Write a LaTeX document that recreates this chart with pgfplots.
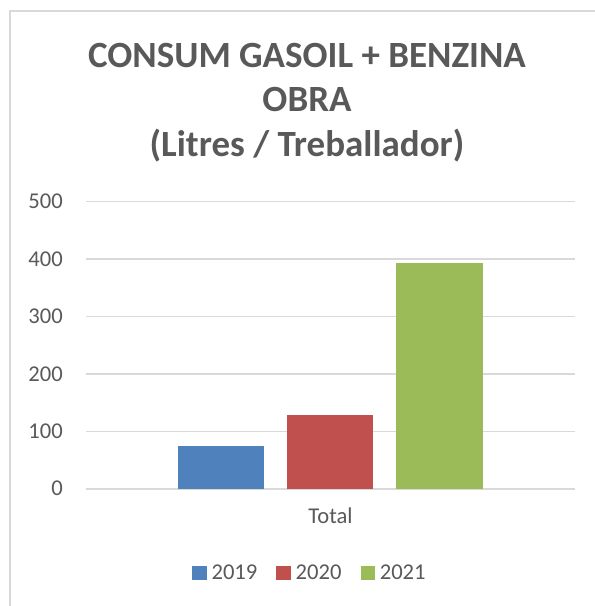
\documentclass[border=0pt]{standalone}
\usepackage{pgfplots}
\pgfplotsset{compat=1.18}
\usepackage{fontspec}
\setmainfont{Carlito}
\definecolor{cblue}{HTML}{4F81BD}
\definecolor{cred}{HTML}{C0504D}
\definecolor{cgreen}{HTML}{9BBB59}
\definecolor{ctext}{HTML}{595959}
\definecolor{cgrid}{HTML}{D9D9D9}
\begin{document}
\begin{tikzpicture}[x=1pt,y=1pt]
\path[use as bounding box] (-86,-117.3) rectangle (509,488.7);
\draw[cgrid, line width=1.5pt] (-76,-117.3) -- (-76,477.7) -- (509,477.7);
\node[anchor=base, font=\fontsize{37}{40}\selectfont\bfseries, text=ctext] at (221,420.7) {CONSUM GASOIL + BENZINA};
\node[anchor=base, font=\fontsize{37}{40}\selectfont\bfseries, text=ctext] at (221,376.7) {OBRA};
\node[anchor=base, font=\fontsize{37}{40}\selectfont\bfseries, text=ctext] at (221,331.7) {(Litres / Treballador)};
\begin{axis}[
  at={(0,0)}, anchor=south west,
  scale only axis, width=489pt, height=287pt,
  xmin=-1, xmax=1, ymin=0, ymax=500,
  ytick={0,100,200,300,400,500},
  xtick={0}, xticklabels={Total},
  major tick length=0pt,
  axis x line*=bottom, axis y line*=left,
  axis line style={-},
  y axis line style={draw=none},
  x axis line style={cgrid, line width=2pt},
  ymajorgrids, major grid style={cgrid, line width=1.5pt},
  /pgf/number format/assume math mode=true,
  tick label style={font=\fontsize{22.6}{26}\selectfont, text=ctext},
  yticklabel style={inner sep=0pt, xshift=-23pt},
  xticklabel style={inner sep=0pt, yshift=-19pt},
  ybar=23pt, bar width=86pt,
  legend columns=3,
  legend style={draw=none, at={(0.458,-0.294)}, anchor=center,
    font=\fontsize{22.6}{26}\selectfont, text=ctext,
    /tikz/every odd column/.append style={column sep=3pt},
    /tikz/every even column/.append style={column sep=17pt},
    nodes={inner sep=2pt}},
  legend image code/.code={\fill[#1] (0pt,-6.7pt) rectangle (14.3pt,6.7pt);},
]
\addplot[fill=cblue, draw=none] coordinates {(0,74.4)};
\addplot[fill=cred, draw=none] coordinates {(0,128.4)};
\addplot[fill=cgreen, draw=none] coordinates {(0,393.2)};
\legend{2019,2020,2021}
\end{axis}
\end{tikzpicture}
\end{document}
